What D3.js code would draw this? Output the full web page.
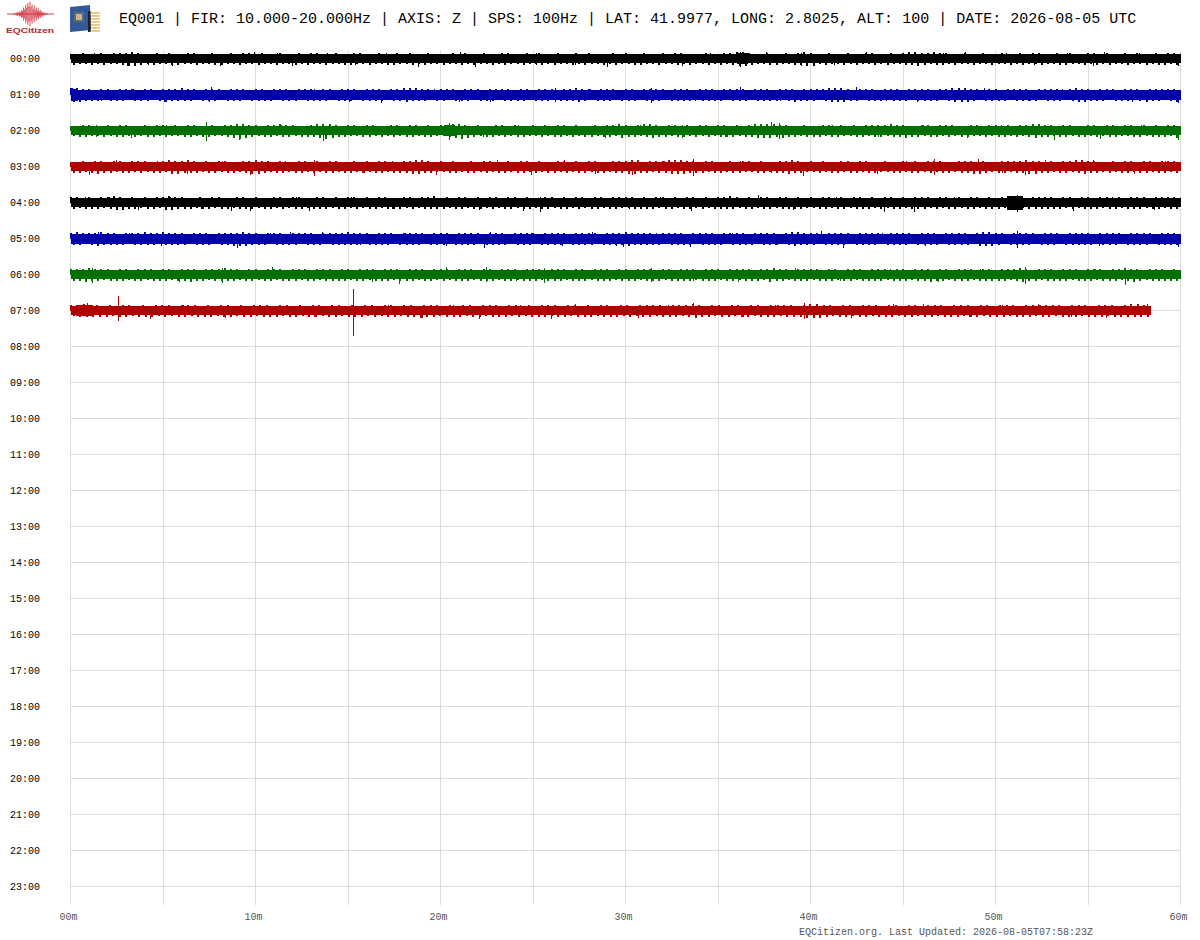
<!DOCTYPE html>
<html>
<head>
<meta charset="utf-8">
<script src="https://cdn.jsdelivr.net/npm/d3@7"></script>
<style>
  html, body { margin: 0; background: #fff; }
  svg { display: block; }
  text { font-family: "Liberation Mono", "DejaVu Sans Mono", monospace; opacity: 0.99; }
</style>
</head>
<body>
<svg id="chart"></svg>
<script>
const hourLabels = ["00:00","01:00","02:00","03:00","04:00","05:00","06:00","07:00","08:00","09:00","10:00","11:00",
  "12:00","13:00","14:00","15:00","16:00","17:00","18:00","19:00","20:00","21:00","22:00","23:00"];
const minuteTicks = [0,5,10,15,20,25,30,35,40,45,50,55,60];
const minuteLabels = {0:"00m",10:"10m",20:"20m",30:"30m",40:"40m",50:"50m",60:"60m"};
const titleText = "EQ001 | FIR: 10.000-20.000Hz | AXIS: Z | SPS: 100Hz | LAT: 41.9977, LONG: 2.8025, ALT: 100 | DATE: 2026-08-05 UTC";
const footerText = "EQCitizen.org. Last Updated: 2026-08-05T07:58:23Z";
const traceColors = ["#000000","#0000aa","#007000","#b00000"];
const traceEnd = [60,60,60,60,60,60,60,58.4];
const coreHalf = [4.5,5,4.5,4.5,4.5,5,4.5,4.5];

// peak envelope, one value every 20 seconds (px-sized counts)
const up0 = [4,4,5,4,4,5,4,5,5,5,6,5,4,4,5,4,5,4,4,5,5,4,4,5,4,4,5,4,5,5,
  4,5,4,4,5,4,4,5,4,5,5,4,4,5,4,4,5,5,4,4,5,4,4,5,4,5,4,4,5,4,
  4,4,5,4,5,4,4,5,4,4,5,5,4,4,5,4,5,4,4,5,4,4,5,4,5,4,4,4,5,4,
  5,4,4,5,4,4,5,4,5,5,4,4,4,5,4,4,5,5,6,6,5,4,4,5,4,4,5,4,5,6,
  5,4,4,5,4,4,5,4,4,5,5,4,4,5,4,5,6,6,5,5,6,5,5,4,4,5,4,4,5,4,
  4,5,4,4,5,4,5,5,4,4,5,4,5,4,4,5,5,4,5,4,4,5,4,5,4,4,5,4,5,5];
const dn0 = [5,4,4,5,4,5,4,4,5,6,6,5,4,5,4,4,5,5,4,4,5,4,4,5,5,4,4,5,4,4,
  5,4,4,5,4,4,5,4,5,4,4,5,4,4,5,5,4,4,5,4,4,5,5,4,4,5,4,5,4,4,
  5,4,4,5,4,5,4,4,5,4,5,4,4,5,4,4,5,4,5,4,4,5,4,5,4,4,5,4,5,4,
  4,5,5,4,4,5,4,4,5,4,5,4,4,5,4,5,4,5,6,6,5,4,4,5,5,4,4,5,5,6,
  6,4,5,4,4,5,4,5,4,4,5,4,5,4,4,5,5,6,5,4,5,5,4,5,4,4,5,4,4,5,
  4,4,5,4,5,4,4,5,4,4,5,5,4,4,5,4,5,4,5,4,4,5,4,4,5,4,5,5,4,5];
const up1 = [6,6,5,5,4,5,5,4,5,5,5,4,5,5,4,5,5,5,6,5,5,4,5,5,5,4,5,5,5,4,
  5,5,4,5,5,5,4,5,5,5,4,5,5,4,5,5,5,4,5,5,5,4,5,5,6,6,6,5,5,4,
  5,5,5,4,5,5,5,4,5,5,5,5,4,5,5,4,5,5,5,4,5,5,6,5,5,4,5,5,5,4,
  5,5,4,5,5,5,5,4,5,5,5,4,5,5,5,4,5,5,5,5,4,5,5,5,4,5,5,5,4,5,
  5,5,5,6,6,6,5,4,5,5,5,4,5,5,5,4,5,5,5,5,4,5,5,6,6,6,5,5,4,5,
  5,4,5,5,5,5,4,5,5,5,5,4,5,6,5,5,4,5,5,5,4,5,5,5,4,5,5,5,5,5];
const dn1 = [6,6,5,5,5,4,5,5,5,4,5,5,5,4,5,6,5,5,5,5,4,5,5,5,4,5,5,5,4,5,
  5,5,5,4,5,5,5,4,5,5,5,5,4,5,5,5,4,5,5,5,5,4,5,5,6,5,5,5,4,5,
  5,4,5,5,5,4,5,5,5,4,5,5,5,5,4,5,5,5,4,5,5,5,6,5,4,5,5,5,4,5,
  5,5,4,5,5,5,4,5,5,5,5,4,5,5,5,5,4,5,5,5,4,5,5,5,5,4,5,6,5,5,
  5,4,5,6,6,6,5,5,4,5,5,5,4,5,5,5,4,5,5,5,5,4,5,6,6,6,5,4,5,5,
  5,5,4,5,5,5,5,4,5,5,5,4,5,6,6,5,5,5,4,5,5,5,4,5,6,5,5,4,5,6];
const up2 = [4,4,5,5,4,4,5,4,5,5,4,4,5,4,5,5,4,5,4,5,5,4,4,5,4,5,5,6,6,5,
  5,4,5,5,6,5,5,4,4,5,6,6,6,5,4,5,5,4,5,5,4,4,5,5,4,5,5,4,5,4,
  5,5,6,6,5,4,5,4,4,5,5,4,5,4,4,5,4,5,4,5,5,4,5,4,4,5,4,5,5,6,
  5,4,5,6,6,5,4,5,5,4,5,4,5,5,4,5,5,4,5,4,5,6,6,6,6,5,5,4,4,5,
  4,4,5,5,4,5,4,5,4,5,5,5,5,6,5,5,4,4,5,5,4,5,5,5,4,4,5,5,4,5,
  5,4,5,4,5,5,6,6,5,5,4,5,5,4,4,5,5,4,5,5,4,5,5,4,5,4,5,4,5,5];
const dn2 = [4,5,5,4,4,5,4,5,5,4,5,4,5,5,4,5,4,4,5,5,4,5,5,4,4,5,6,7,6,5,
  4,5,5,4,5,5,4,5,5,5,6,7,6,5,5,4,4,5,5,4,5,4,5,4,5,5,4,5,5,4,
  4,5,6,7,6,5,4,5,5,4,5,4,5,5,4,4,5,4,5,5,4,5,4,5,5,4,5,5,4,6,
  5,5,4,5,6,5,5,4,5,5,4,5,4,5,4,5,5,5,4,5,5,6,6,6,5,6,5,5,4,5,
  5,5,4,5,5,4,4,5,5,4,5,5,4,5,5,6,5,5,4,5,5,4,5,4,5,5,4,4,5,4,
  5,5,4,5,4,5,6,5,5,4,5,5,4,5,5,4,5,4,5,5,4,4,5,5,4,5,5,5,4,6];
const up3 = [4,4,5,4,5,5,4,5,5,4,5,5,5,4,4,5,6,5,5,6,5,4,5,4,5,5,4,4,5,5,
  6,5,5,4,5,4,4,5,5,4,5,4,5,5,4,4,5,4,5,4,5,5,4,4,5,5,6,6,5,4,
  5,4,5,4,4,5,4,5,5,4,4,5,4,5,5,4,5,4,4,5,5,4,5,4,5,5,4,4,5,5,
  5,6,6,4,5,5,5,6,6,6,5,5,4,5,5,4,4,5,4,5,5,4,5,4,4,5,5,6,5,4,
  5,4,5,4,4,5,5,4,5,5,4,4,5,4,4,5,4,5,4,5,5,5,4,4,5,5,5,4,5,4,
  4,5,5,5,5,6,5,5,4,5,4,5,5,6,6,5,5,4,4,5,4,5,5,4,5,5,4,5,5,5];
const dn3 = [5,5,4,5,6,5,5,4,5,5,4,5,4,5,5,4,6,6,5,5,5,4,5,5,4,5,5,4,5,6,
  6,5,4,5,5,4,5,5,4,5,4,5,5,4,5,5,4,5,4,5,5,4,5,5,5,6,6,5,5,4,
  4,5,5,4,5,5,4,5,4,5,5,4,5,5,4,5,4,5,5,4,5,4,5,5,4,5,5,4,5,5,
  6,6,5,5,4,5,5,6,6,6,5,5,5,4,5,5,4,5,5,4,4,5,5,4,5,5,6,5,5,4,
  4,5,4,5,5,4,5,5,4,5,5,4,4,5,5,4,5,5,4,5,4,5,5,4,5,5,6,6,5,4,
  5,5,4,5,5,6,6,5,5,4,5,5,4,5,6,5,5,4,5,4,5,5,4,5,5,4,5,5,4,5];
const up4 = [5,5,4,5,4,5,5,6,5,4,5,4,5,4,5,5,6,5,5,4,4,5,4,5,5,4,4,5,5,4,
  5,4,4,5,5,4,5,5,4,4,5,5,4,5,4,5,5,4,5,4,5,5,4,4,5,5,4,5,5,6,
  4,5,4,5,5,4,5,4,5,5,4,5,5,4,5,4,4,5,5,4,5,4,5,5,4,5,5,4,5,5,
  5,5,4,5,4,5,5,4,5,4,5,5,4,5,4,5,5,6,5,4,5,4,5,5,4,5,5,4,5,4,
  5,4,5,5,4,5,4,5,5,4,5,4,5,5,4,5,4,5,5,5,4,5,5,4,5,4,5,5,4,5,
  4,5,5,4,5,4,5,5,5,5,4,5,5,4,5,5,4,5,5,4,5,4,5,5,5,4,5,5,5,5];
const dn4 = [5,4,5,5,5,4,5,6,6,5,5,4,5,5,4,6,6,5,5,5,4,5,5,4,5,5,4,5,5,5,
  4,5,5,4,5,4,5,5,4,5,5,5,4,5,5,4,5,4,5,5,4,5,5,5,4,5,4,5,5,5,
  5,4,5,5,4,5,5,4,5,4,5,5,4,5,5,4,5,5,4,5,5,4,5,4,5,5,4,5,5,4,
  4,5,5,5,5,4,5,5,4,5,5,4,5,4,5,5,5,5,4,5,5,4,5,5,4,5,5,5,5,4,
  4,5,5,4,5,5,4,5,5,5,4,5,4,5,5,4,5,5,5,4,5,4,5,5,4,5,5,4,5,5,
  5,4,5,5,4,5,5,5,5,5,5,4,5,4,5,5,5,4,5,5,4,5,5,5,4,5,5,4,5,5];
const up5 = [5,6,5,5,5,6,5,5,4,5,5,5,6,5,5,6,5,5,5,4,5,5,5,4,5,5,5,5,6,5,
  5,4,5,5,5,4,5,5,5,5,4,5,5,5,5,6,5,5,5,4,5,5,5,4,5,5,5,5,4,5,
  5,5,4,5,5,5,5,4,5,5,5,4,5,5,5,5,4,5,5,5,5,4,5,5,5,5,4,5,5,5,
  6,5,5,5,5,4,5,5,5,5,4,5,5,5,5,4,5,5,5,5,4,5,5,5,5,4,5,6,6,5,
  5,5,4,5,5,5,5,4,5,5,5,5,4,5,5,5,5,4,5,5,5,4,5,5,5,5,4,5,6,6,
  5,5,4,5,5,5,5,4,5,5,5,4,5,5,5,5,4,5,5,5,5,4,5,5,5,5,4,5,5,5];
const dn5 = [5,5,4,5,6,5,5,5,5,4,5,5,5,5,4,5,5,5,5,4,5,5,5,4,5,5,6,6,6,5,
  5,5,4,5,5,5,5,4,5,5,5,4,5,5,5,5,5,4,5,5,5,5,4,5,5,5,5,4,5,5,
  5,4,5,5,5,5,4,5,5,5,5,4,5,5,5,4,5,5,5,5,4,5,5,5,5,4,5,5,5,5,
  6,5,5,5,5,5,4,5,5,5,5,4,5,5,5,5,4,5,5,5,5,4,5,5,5,4,5,6,5,5,
  5,4,5,5,5,5,4,5,5,5,5,4,5,5,5,5,4,5,5,5,5,4,5,5,5,5,4,6,6,6,
  5,4,5,5,5,5,4,5,5,5,4,5,5,5,5,5,4,5,5,5,4,5,5,5,5,4,5,5,5,5];
const up6 = [5,5,5,6,5,5,5,4,5,5,4,5,5,5,4,5,5,4,5,5,5,4,5,5,5,6,5,5,4,5,
  5,4,5,5,5,4,5,5,5,4,5,5,5,4,5,5,4,5,5,5,4,5,5,5,4,5,5,5,4,5,
  5,5,4,5,5,5,4,5,5,4,5,5,5,4,5,5,5,4,5,5,5,4,5,5,4,5,5,5,4,5,
  5,4,5,5,5,4,5,5,4,5,5,5,4,5,5,5,4,5,5,5,5,4,5,5,6,5,5,4,5,5,
  5,5,4,5,5,4,5,5,5,4,5,5,5,4,5,5,4,5,5,5,4,5,5,4,5,5,5,4,5,5,
  4,5,5,5,6,5,4,5,5,5,4,5,5,5,4,5,5,5,4,5,5,6,5,5,4,5,5,5,4,5];
const dn6 = [5,5,6,5,5,4,5,5,5,4,5,5,4,5,5,5,4,5,5,6,5,5,4,5,5,5,5,4,5,5,
  4,5,5,4,5,5,5,4,5,5,4,5,5,5,5,4,5,5,4,5,5,5,4,5,5,5,4,5,5,4,
  5,4,5,5,5,4,5,5,5,4,5,5,4,5,5,5,4,5,5,5,4,5,5,5,4,5,5,5,4,5,
  5,5,4,5,5,5,4,5,5,5,5,4,5,5,5,4,5,5,4,5,5,5,4,6,5,5,4,5,5,5,
  4,5,5,5,4,5,5,4,5,5,5,5,4,5,5,5,4,5,5,6,5,5,4,5,5,5,4,5,5,5,
  5,5,4,5,6,5,5,4,5,5,5,5,4,5,5,5,4,5,5,5,4,5,6,5,4,5,5,5,5,5];
const up7 = [5,5,6,5,5,4,5,4,5,5,4,5,4,5,5,5,4,5,5,5,4,5,4,5,5,4,5,4,5,5,
  5,4,5,5,4,5,4,5,5,4,5,5,4,5,4,5,5,4,5,5,4,5,5,4,5,5,5,4,5,4,
  5,5,4,5,5,5,4,5,5,4,5,4,5,5,5,4,5,5,4,5,4,5,5,4,5,5,4,5,5,5,
  5,4,5,5,5,6,5,4,5,5,4,5,5,4,5,5,4,5,5,5,5,4,5,6,6,5,5,4,5,5,
  4,5,5,5,4,5,5,4,5,5,4,5,5,5,4,5,5,5,4,5,5,4,5,5,5,4,5,5,5,5,
  5,5,4,5,5,5,4,5,5,5,4,5,6,6,5];
const dn7 = [4,5,5,5,5,5,4,5,5,4,5,5,5,4,5,4,5,5,4,5,5,5,4,5,5,4,5,5,4,5,
  5,5,4,5,5,4,5,5,4,5,5,4,5,5,5,4,5,4,5,5,4,5,5,6,5,5,4,5,5,5,
  4,5,5,4,5,5,5,4,5,4,5,5,5,4,5,5,4,5,5,5,4,5,5,5,4,5,4,5,5,4,
  5,5,5,4,5,6,5,5,4,5,5,4,5,5,4,5,5,5,4,5,5,5,6,6,6,5,4,5,5,4,
  5,5,4,5,5,5,4,5,5,4,5,5,4,5,5,5,4,5,5,4,5,5,5,4,5,5,5,4,5,5,
  4,5,5,5,4,5,5,5,4,5,5,5,5,5,5];
const upperPeaks = [up0,up1,up2,up3,up4,up5,up6,up7];
const lowerPeaks = [dn0,dn1,dn2,dn3,dn4,dn5,dn6,dn7];

// single tall samples per trace: minute, peak above, peak below
const spikes0 = [[1.3,6,0],[2.4,6,0],[3.1,0,7],[4.2,0,6],[5.5,0,7],[6.7,6,0],[8.1,0,7],[9.95,7,0],[11.2,6,6],[12,0,7],[13.9,6,0],[15.4,0,6],[17.1,6,0],[18.8,0,8],[21.1,7,0],[21.9,0,8],[23.7,6,0],[25.2,6,6],[27.3,0,6],[29,0,8],
  [33.1,0,7],[34.6,6,0],[36.2,7,8],[37.6,7,0],[39.5,6,7],[41.3,0,6],[43,7,0],[45.8,0,7],[47.2,6,0],[48.4,7,0],[50.6,6,0],[52.1,0,6],[53.9,6,0],[55.3,0,7],[55.9,7,0],[57.8,6,0],[59.9,0,7]];
const spikes1 = [[0.1,7,0],[1.7,0,6],[3.4,6,0],[5.1,0,7],[7.5,0,7],[7.6,8,0],[9.3,6,0],[11.8,0,6],[13.2,6,0],[15.1,0,7],[16.8,0,8],[18,7,0],[19.7,6,0],[21,0,7],[22.7,0,7],[24.4,6,0],[26.2,7,7],[28.1,6,0],
  [31.4,7,8],[33.8,0,6],[36.2,8,0],[38.4,0,6],[40.3,6,0],[42.5,8,0],[44.1,0,6],[45.8,0,7],[47.7,6,0],[49.4,7,0],[51.9,0,6],[53.6,6,0],[55.7,6,0],[57.4,0,7],[59.9,0,8]];
const spikes2 = [[1.4,6,6],[3.3,0,7],[5.2,6,0],[7.35,9,10],[9.15,0,9],[11.4,6,0],[13.7,0,10],[15.8,0,6],[17.6,6,0],[20.5,8,9],[22.3,0,6],[24.2,6,6],[26.7,6,0],[28.9,0,7],
  [30.8,6,0],[33.1,6,7],[35.4,0,6],[37.9,9,0],[38.35,8,8],[41.2,6,0],[43.7,0,6],[46.1,6,0],[48.5,0,7],[50.3,6,0],[53.2,0,9],[55.7,0,8],[57.9,6,0],[59.9,0,9]];
const spikes3 = [[1,0,8],[2.5,7,0],[4.7,6,0],[6.3,0,7],[8.2,6,0],[9.75,0,8],[11.6,6,0],[13.2,7,9],[15.9,0,6],[17.4,6,0],[19.8,0,8],[21.7,6,0],[23.1,7,0],[24.9,0,8],[26.7,7,0],[28.4,0,7],
  [30.4,0,8],[32.1,6,0],[33.65,8,9],[36.2,6,0],[37.9,0,6],[39.6,0,9],[41.7,6,0],[43.6,0,7],[45.2,6,0],[46.7,8,8],[49.1,8,0],[50.4,0,6],[51.6,0,8],[52.7,7,0],[55.3,7,0],[57.5,0,7],[59.2,6,0]];
const spikes4 = [[0.8,6,0],[2.1,6,0],[3.7,0,7],[5.4,6,0],[7.1,0,6],[8.7,0,8],[9.75,0,8],[11.3,6,0],[12.2,6,0],[12.9,0,8],[15.2,6,0],[17.4,0,6],[19.6,6,0],[22.1,0,7],[24.5,0,8],[25.4,6,9],[27.6,6,0],
  [30.2,0,6],[31.9,6,0],[33.55,0,8],[35.6,6,0],[37.2,8,0],[39.1,0,7],[41.4,6,0],[44,0,9],[45.6,0,9],[47.8,6,0],[49.5,0,6],[51.2,8,9],[54.2,0,8],[56.3,6,0],[58.6,0,7]];
const spikes5 = [[1.5,7,7],[3.2,6,0],[4.9,0,7],[7.3,6,0],[9,0,9],[10.8,6,0],[11.9,7,0],[13.6,7,0],[15.7,0,6],[18.1,6,0],[20.3,0,7],[22.4,0,9],[22.7,7,0],[24.9,6,0],[26.6,0,7],[28.2,7,0],[29.5,0,7],
  [29.9,0,8],[31.7,6,0],[33.5,0,8],[35.8,6,0],[38.1,0,6],[40.6,8,0],[41.8,0,9],[43.9,6,0],[46.2,0,7],[48.4,6,0],[51.2,8,9],[53.3,6,0],[55.6,0,7],[57.7,6,0],[59.9,0,8]];
const spikes6 = [[1.2,7,8],[3.6,6,0],[5.9,0,7],[8.2,7,8],[10.9,8,0],[12.8,0,6],[14.7,6,0],[16.3,0,7],[17.8,0,9],[20.3,8,0],[22.5,8,7],[24.1,0,6],[25.6,7,8],[28.3,6,0],
  [31.4,7,7],[33.7,0,6],[36.1,0,7],[37.7,6,0],[39.2,7,0],[41.6,0,6],[44.3,6,0],[46.9,0,7],[49.2,6,0],[51.6,8,9],[53.8,0,6],[55.4,6,0],[57,0,10],[59,6,0]];
const spikes7 = [[0.9,8,0],[2.6,15,10],[4.3,0,8],[6.1,6,0],[8.4,0,7],[10.6,6,0],[13.2,0,6],[15.3,22,25],[17.2,6,0],[19,0,7],[20.7,6,0],[22.1,0,8],[24.3,6,0],[26,0,8],[27.3,7,0],[28.8,0,6],
  [30.7,0,7],[32.3,6,0],[33.7,8,0],[36.4,0,6],[38.1,6,0],[39.7,8,8],[42.2,0,7],[44.5,7,0],[46.1,7,0],[48.6,0,6],[50.4,6,0],[52.3,7,0],[54.1,0,6],[56,0,7],[58.2,7,0]];
const spikeLists = [spikes0,spikes1,spikes2,spikes3,spikes4,spikes5,spikes6,spikes7];

// stretches where the solid part of a trace widens: row, from minute, to minute, half height
const bursts = [[0,36,36.6,5.5],[1,0,0.4,6],[2,20.2,20.8,5.5],[4,50.6,51.5,7],[7,0.3,1.2,5.5]];

const logoWave = [1,1,2,3,2,4,3,6,5,10,7,14,10,17,12,19,11,15,8,13,6,10,5,8,4,6,3,4,2,2,1,1];
const pinRows = [12,15,18,21,24,27,30];

const width = 1200, height = 940;
const margin = { top: 51, right: 19.5, bottom: 35, left: 70.5 };

const svg = d3.select("#chart").attr("width", width).attr("height", height);

const x = d3.scaleLinear().domain([0, 60]).range([margin.left, width - margin.right]);
const rowY = d3.scalePoint().domain(hourLabels).range([58.5, 886.5]);
// one count is one pixel on the drum
const amp = d3.scaleLinear().domain([-30, 30]).range([30, -30]);

// grid and axes
const xAxis = d3.axisBottom(x).offset(0).tickValues(minuteTicks).tickSize(height - margin.bottom - margin.top).tickFormat(d => minuteLabels[d] || "");
const yAxis = d3.axisLeft(rowY).offset(0).tickSize(x(60) - x(0));

const gx = svg.append("g").attr("transform", `translate(0,${margin.top})`).call(xAxis);
gx.select(".domain").remove();
gx.selectAll("line").attr("stroke", "#dcdcdc").attr("shape-rendering", "crispEdges");
gx.selectAll("text").attr("fill", "#555").attr("font-size", 10).attr("dx", -2).attr("y", 869).attr("dy", 0);

const gy = svg.append("g").attr("transform", `translate(${x(60)},0)`).call(yAxis);
gy.select(".domain").remove();
gy.selectAll("line").attr("stroke", "#dcdcdc").attr("shape-rendering", "crispEdges");
gy.selectAll("text").attr("fill", "#000").attr("font-size", 10).attr("text-anchor", "start")
  .attr("x", 10 - x(60)).attr("dy", "0.32em");

// traces
upperPeaks.forEach((upper, row) => {
  const lower = lowerPeaks[row];
  const base = rowY(hourLabels[row]);
  const color = traceColors[row % traceColors.length];
  const minuteAt = d3.scaleLinear().domain([0, upper.length]).range([0, traceEnd[row]]);
  const g = svg.append("g").attr("class", "trace").attr("shape-rendering", "crispEdges");

  // solid core of the trace
  g.append("rect")
    .attr("x", x(0))
    .attr("width", x(traceEnd[row]) - x(0))
    .attr("y", base + amp(coreHalf[row]))
    .attr("height", amp(-coreHalf[row]) - amp(coreHalf[row]))
    .attr("fill", color);

  g.selectAll(".burst").data(bursts.filter(b => b[0] === row)).join("rect").attr("class", "burst")
    .attr("x", d => x(d[1]))
    .attr("width", d => x(d[2]) - x(d[1]))
    .attr("y", d => base + amp(d[3]))
    .attr("height", d => amp(-d[3]) - amp(d[3]))
    .attr("fill", color);

  // teeth above and below, pen width adds a pixel; lower ones sit half a step later
  g.selectAll(".up").data(upper).join("line").attr("class", "up")
    .attr("x1", (d, i) => x(minuteAt(i))).attr("x2", (d, i) => x(minuteAt(i)))
    .attr("y1", d => base + amp(d) - 1)
    .attr("y2", base)
    .attr("stroke", color).attr("stroke-width", 2);

  g.selectAll(".dn").data(lower).join("line").attr("class", "dn")
    .attr("x1", (d, i) => x(minuteAt(i + 0.5))).attr("x2", (d, i) => x(minuteAt(i + 0.5)))
    .attr("y1", base)
    .attr("y2", d => base + amp(-d) + 1)
    .attr("stroke", color).attr("stroke-width", 2);

  g.selectAll(".spike").data(spikeLists[row]).join("line").attr("class", "spike")
    .attr("x1", d => x(d[0])).attr("x2", d => x(d[0]))
    .attr("y1", d => base + amp(d[1]))
    .attr("y2", d => base + amp(-d[2]))
    .attr("stroke", color)
    .attr("stroke-width", 1);
});

// header
svg.append("text").attr("x", 119).attr("y", 23).attr("font-size", 15).attr("fill", "#000").text(titleText);

// footer
svg.append("text").attr("x", 799).attr("y", 935).attr("font-size", 10).attr("fill", "#555").text(footerText);

// EQCitizen logo
const logo = svg.append("g").attr("class", "logo");
const logoX = d3.scaleLinear().domain([0, logoWave.length - 1]).range([14, 47]);
logo.append("line").attr("x1", 7).attr("x2", 54).attr("y1", 14).attr("y2", 14).attr("stroke", "#d8434b").attr("stroke-width", 1);
logo.selectAll(".wave").data(logoWave).join("line").attr("class", "wave")
  .attr("x1", (d, i) => logoX(i)).attr("x2", (d, i) => logoX(i))
  .attr("y1", d => 14 - d * 0.65).attr("y2", d => 14 + d * 0.65)
  .attr("stroke", "#d02a33").attr("stroke-width", 0.8);
logo.append("text").attr("x", 6).attr("y", 32.5).attr("font-size", 8)
  .attr("font-weight", "bold").attr("fill", "#b8232b").style("font-family", "Liberation Sans")
  .attr("textLength", 48).attr("lengthAdjust", "spacingAndGlyphs").text("EQCitizen");

// sensor board icon
const chip = svg.append("g").attr("class", "chip");
chip.selectAll(".pin").data(pinRows).join("rect").attr("class", "pin")
  .attr("x", 89).attr("y", d => d).attr("width", 11).attr("height", 1.8).attr("fill", "#e6c878");
chip.append("path").attr("d", "M70 7 L90 5 L91 30 L70 32 Z").attr("fill", "#34589a");
chip.append("rect").attr("x", 74).attr("y", 12).attr("width", 10).attr("height", 10).attr("fill", "#5a6a78");
chip.append("rect").attr("x", 76).attr("y", 14).attr("width", 6).attr("height", 6).attr("fill", "#c9b88a");
chip.append("rect").attr("x", 88).attr("y", 11).attr("width", 2.5).attr("height", 21).attr("fill", "#222");
</script>
</body>
</html>
